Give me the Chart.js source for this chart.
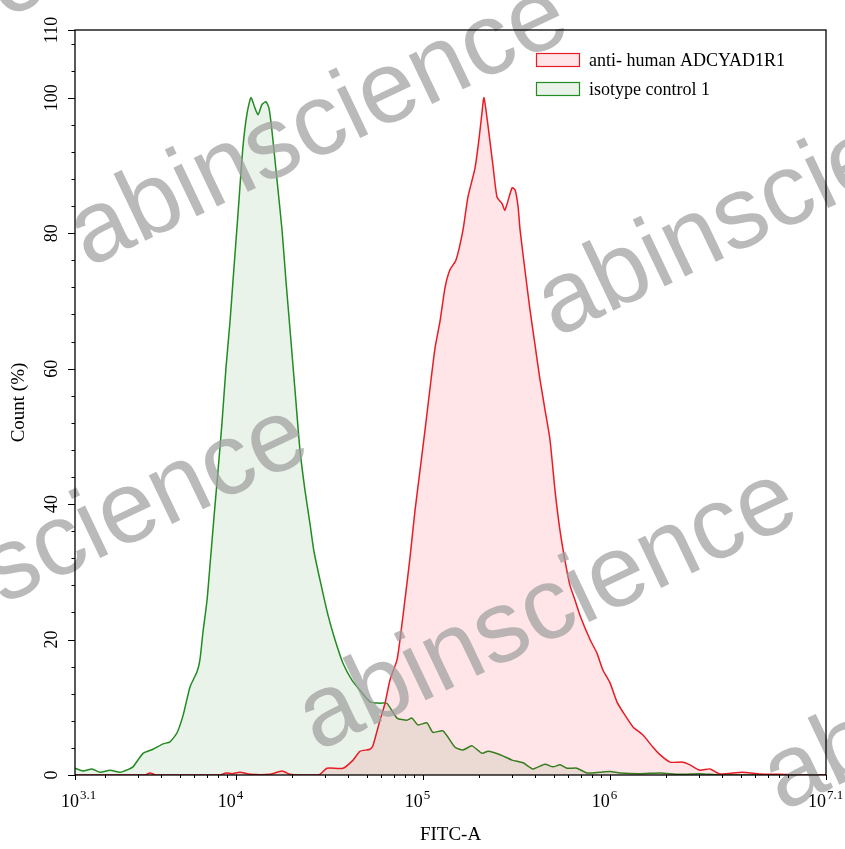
<!DOCTYPE html>
<html>
<head>
<meta charset="utf-8">
<script src="https://cdn.jsdelivr.net/npm/chart.js@4.4.1/dist/chart.umd.min.js"></script>
<style>
  html, body { margin: 0; padding: 0; background: #fff; }
  canvas { display: block; }
</style>
</head>
<body>
<canvas id="histChart" width="845" height="849"></canvas>
<script>
// x positions are log10(FITC-A), y is Count (%)
const redLogX = [3.140, 3.514, 3.541, 3.573, 3.915, 3.947, 3.980, 4.022, 4.076, 4.183, 4.247, 4.290, 4.343, 4.413, 4.450, 4.488, 4.573, 4.627, 4.664, 4.718, 4.734, 4.771, 4.798, 4.824, 4.862, 4.878, 4.905, 4.931, 4.958, 4.985, 5.012, 5.038, 5.065, 5.092, 5.119, 5.145, 5.177, 5.215, 5.241, 5.279, 5.300, 5.316, 5.327, 5.348, 5.375, 5.397, 5.423, 5.439, 5.477, 5.493, 5.509, 5.520, 5.546, 5.573, 5.600, 5.627, 5.653, 5.680, 5.707, 5.734, 5.760, 5.787, 5.814, 5.840, 5.894, 5.931, 5.963, 6.001, 6.038, 6.070, 6.124, 6.177, 6.231, 6.268, 6.322, 6.391, 6.429, 6.482, 6.536, 6.589, 6.707, 6.803, 6.910, 7.017, 7.156];
const redCount = [0, 0, 0.3, 0, 0, 0.3, 0.2, 0.4, 0.1, 0.1, 0.6, 0.1, 0, 0, 0.1, 1.0, 1.0, 2.2, 3.5, 3.8, 4.4, 8.1, 10.6, 14, 17, 20, 26, 32, 39, 45, 51, 57, 63, 67, 72, 74.6, 76, 80.5, 85.3, 89.6, 93.8, 97.7, 100, 96, 90, 85.3, 84.4, 83.4, 86.7, 86.4, 84, 80.5, 74.6, 68.7, 63.5, 58.3, 54, 49.5, 42, 36, 31.7, 28, 25.8, 23.6, 20, 18, 15.5, 13.6, 10.8, 9.3, 7.1, 5.9, 4.1, 3, 1.9, 1.9, 1.5, 0.7, 0.9, 0.15, 0.4, 0.15, 0.1, 0, 0];

const greenLogX = [3.140, 3.183, 3.231, 3.274, 3.327, 3.381, 3.423, 3.450, 3.504, 3.557, 3.611, 3.648, 3.685, 3.718, 3.755, 3.792, 3.808, 3.824, 3.846, 3.862, 3.883, 3.905, 3.926, 3.947, 3.969, 3.985, 4.012, 4.038, 4.060, 4.081, 4.102, 4.119, 4.140, 4.161, 4.177, 4.193, 4.220, 4.247, 4.268, 4.290, 4.316, 4.343, 4.370, 4.397, 4.418, 4.450, 4.493, 4.530, 4.573, 4.621, 4.664, 4.718, 4.771, 4.808, 4.862, 4.915, 4.942, 4.974, 5.022, 5.054, 5.108, 5.172, 5.215, 5.263, 5.316, 5.349, 5.413, 5.477, 5.536, 5.589, 5.653, 5.696, 5.734, 5.771, 5.824, 5.878, 5.947, 6.001, 6.054, 6.161, 6.268, 6.375, 6.482, 6.589, 7.156];
const greenCount = [1.0, 0.6, 0.9, 0.4, 0.7, 0.4, 0.8, 1.2, 3.2, 3.8, 4.6, 4.9, 6.2, 8.8, 13, 15.2, 17, 21, 25.8, 31, 38, 45, 52, 60, 67, 73, 83, 92.7, 97.7, 100, 98.5, 97.5, 99, 99.4, 98.5, 95.2, 87.9, 80.5, 73, 65.7, 57, 48, 42, 37, 33, 28.8, 23.6, 20, 16.5, 14, 12.5, 10.8, 10.6, 10.6, 8.4, 8.1, 8.4, 7.4, 7.7, 6.3, 6.5, 4.1, 3.7, 4.3, 3.2, 3.5, 3.0, 2.2, 1.8, 0.9, 1.6, 1.2, 1.5, 1.0, 1.0, 0.3, 0.4, 0.5, 0.3, 0.2, 0.3, 0.1, 0.2, 0, 0];

const seriesNames = ["anti- human ADCYAD1R1", "isotype control 1"];

// axis range and ticks
const xMinExp = 3.14, xMaxExp = 7.156;
const xMajorExps = [3.14, 4, 5, 6, 7.156];
const xMajorLabels = ["3.1", "4", "5", "6", "7.1"];
const yTickStep = 4;
const yLabels = [0, 20, 40, 60, 80, 100, 110];

const toPoints = (lx, ly) => lx.map((e, i) => ({ x: Math.pow(10, e), y: ly[i] }));

const serif = '"Liberation Serif", "Times New Roman", serif';

const axesPlugin = {
  id: "axesPlugin",
  afterDatasetsDraw(chart) {
    const ctx = chart.ctx;
    const a = chart.chartArea;
    const xs = chart.scales.x, ys = chart.scales.y;

    // watermark (under frame and labels)
    const marks = [[-385, 205], [88, 268], [556, 338], [-172, 688], [317, 752], [782, 812]];
    ctx.save();
    ctx.font = '102px "Liberation Sans", Arial, sans-serif';
    ctx.fillStyle = "rgba(160,160,160,0.72)";
    ctx.textAlign = "left";
    ctx.textBaseline = "alphabetic";
    marks.forEach(([x, y]) => {
      ctx.save();
      ctx.translate(x, y);
      ctx.rotate(-25.5 * Math.PI / 180);
      ctx.fillText("abinscience", 0, 0);
      ctx.restore();
    });
    ctx.restore();

    ctx.save();
    ctx.strokeStyle = "#000";
    ctx.fillStyle = "#000";
    ctx.lineWidth = 1.3;
    ctx.strokeRect(a.left, a.top, a.right - a.left, a.bottom - a.top);

    // y ticks
    ctx.lineWidth = 1;
    ctx.beginPath();
    for (let v = 0; v <= 110; v += yTickStep) {
      const y = Math.round(ys.getPixelForValue(v)) + 0.5;
      const len = v % 20 === 0 ? 7 : 3.5;
      ctx.moveTo(a.left - len, y);
      ctx.lineTo(a.left, y);
    }
    const yTop = Math.round(ys.getPixelForValue(110)) + 0.5;
    ctx.moveTo(a.left - 7, yTop);
    ctx.lineTo(a.left, yTop);
    // x minor ticks
    for (let e = 3; e <= 7; e++) {
      for (let k = 2; k <= 9; k++) {
        const v = k * Math.pow(10, e);
        if (v < Math.pow(10, xMinExp) || v > Math.pow(10, xMaxExp)) continue;
        const x = Math.round(xs.getPixelForValue(v)) + 0.5;
        ctx.moveTo(x, a.bottom);
        ctx.lineTo(x, a.bottom + 3);
      }
    }
    xMajorExps.forEach((e) => {
      const x = Math.round(xs.getPixelForValue(Math.pow(10, e))) + 0.5;
      ctx.moveTo(x, a.bottom);
      ctx.lineTo(x, a.bottom + 5);
    });
    ctx.stroke();

    // y tick labels (rotated)
    ctx.font = "18px " + serif;
    ctx.textAlign = "center";
    ctx.textBaseline = "alphabetic";
    yLabels.forEach((v) => {
      const y = ys.getPixelForValue(v);
      ctx.save();
      ctx.translate(a.left - 18, y);
      ctx.rotate(-Math.PI / 2);
      ctx.fillText(String(v), 0, 0);
      ctx.restore();
    });

    // x tick labels 10^n
    xMajorExps.forEach((e, i) => {
      const x = xs.getPixelForValue(Math.pow(10, e)) + (i === 0 ? 4 : 0);
      ctx.font = "18px " + serif;
      ctx.textAlign = "right";
      ctx.fillText("10", x, a.bottom + 32);
      ctx.font = "13px " + serif;
      ctx.textAlign = "left";
      ctx.fillText(xMajorLabels[i], x + 1, a.bottom + 24);
    });

    // axis titles
    ctx.font = "19px " + serif;
    ctx.textAlign = "center";
    ctx.fillText("FITC-A", (a.left + a.right) / 2, a.bottom + 65);
    ctx.save();
    ctx.translate(24, (a.top + a.bottom) / 2);
    ctx.rotate(-Math.PI / 2);
    ctx.fillText("Count (%)", 0, 0);
    ctx.restore();

    // legend
    ctx.font = "18px " + serif;
    ctx.textAlign = "left";
    ctx.textBaseline = "middle";
    chart.data.datasets.forEach((ds, i) => {
      const yc = 60 + i * 29;
      ctx.fillStyle = ds.backgroundColor;
      ctx.fillRect(536, yc - 6.5, 43, 13);
      ctx.strokeStyle = ds.borderColor;
      ctx.lineWidth = 1.2;
      ctx.strokeRect(536.5, yc - 6.5, 43, 13);
      ctx.fillStyle = "#000";
      ctx.fillText(ds.label, 589, yc + 1);
    });
    ctx.restore();
  }
};

new Chart(document.getElementById("histChart").getContext("2d"), {
  type: "line",
  data: {
    datasets: [
      {
        label: seriesNames[0],
        data: toPoints(redLogX, redCount),
        borderColor: "rgb(232,28,36)",
        backgroundColor: "rgba(255,0,20,0.1)",
        borderWidth: 1.5,
        pointRadius: 0,
        tension: 0.2,
        fill: "origin",
      },
      {
        label: seriesNames[1],
        data: toPoints(greenLogX, greenCount),
        borderColor: "rgb(34,139,34)",
        backgroundColor: "rgba(40,140,40,0.1)",
        borderWidth: 1.5,
        pointRadius: 0,
        tension: 0.2,
        fill: "origin",
      },
    ],
  },
  plugins: [axesPlugin],
  options: {
    responsive: false,
    animation: false,
    devicePixelRatio: 1,
    layout: { padding: { left: 75, right: 19, top: 30, bottom: 74 } },
    plugins: { legend: { display: false }, tooltip: { enabled: false } },
    scales: {
      x: { type: "logarithmic", min: Math.pow(10, xMinExp), max: Math.pow(10, xMaxExp), display: false },
      y: { type: "linear", min: 0, max: 110, display: false },
    },
  },
});
</script>
</body>
</html>
